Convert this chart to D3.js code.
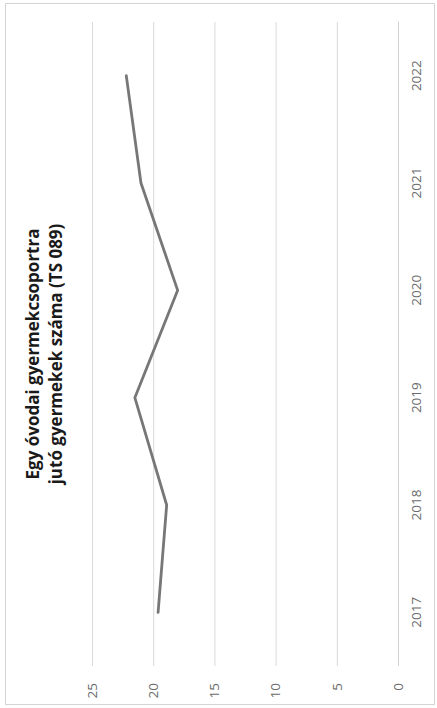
<!DOCTYPE html>
<html>
<head>
<meta charset="utf-8">
<script src="https://cdn.jsdelivr.net/npm/d3@7"></script>
<style>
  html, body { margin: 0; padding: 0; background: #fff; }
  svg { display: block; }
</style>
</head>
<body>
<svg id="chart" width="437" height="708"></svg>
<script>
// ---- Data ----
const years = ["2017", "2018", "2019", "2020", "2021", "2022"];
const values = [19.6, 18.9, 21.5, 18.0, 21.0, 22.2];
const valueTicks = [0, 5, 10, 15, 20, 25];
const titleLines = ["Egy óvodai gyermekcsoportra", "jutó gyermekek száma (TS 089)"];

// ---- Layout (chart is drawn rotated 90° counter-clockwise, like the scanned page) ----
const W = 437, H = 708;
const svg = d3.select("#chart");

// outer border
svg.append("rect")
  .attr("x", 5.5).attr("y", 3.5)
  .attr("width", 429).attr("height", 701)
  .attr("fill", "#fff")
  .attr("stroke", "#d4d4d4")
  .attr("stroke-width", 1);

// rotated frame: local (u,v) -> screen (v, H-u)
const g = svg.append("g").attr("transform", `translate(0,${H}) rotate(-90)`);

const plot = { left: 42, right: 686, top: 92, bottom: 398 };

const x = d3.scaleBand().domain(years).range([plot.left, plot.right]).padding(0);
const y = d3.scaleLinear().domain([0, 25]).range([plot.bottom, plot.top]);

const font = "'Open Sans', 'DejaVu Sans', sans-serif";

// value axis + gridlines
const yAxis = d3.axisLeft(y)
  .tickValues(valueTicks)
  .tickSize(-(plot.right - plot.left))
  .tickPadding(17)
  .tickFormat(d3.format("d"));

const ya = g.append("g")
  .attr("transform", `translate(${plot.left},0)`)
  .call(yAxis);
ya.select(".domain").remove();
ya.selectAll(".tick line").attr("stroke", "#d9d9d9").attr("stroke-width", 1);
ya.selectAll(".tick text")
  .attr("fill", "#6b6b6b")
  .style("font-family", font)
  .style("font-size", "13.5px");

// category axis
const xAxis = d3.axisBottom(x).tickSize(0).tickPadding(13);
const xa = g.append("g")
  .attr("transform", `translate(0,${plot.bottom})`)
  .call(xAxis);
xa.select(".domain").attr("stroke", "#d0d0d0").attr("stroke-width", 1);
xa.selectAll(".tick text")
  .attr("fill", "#6b6b6b")
  .style("font-family", font)
  .style("font-size", "13.5px");

// line
const line = d3.line()
  .x((d, i) => x(years[i]) + x.bandwidth() / 2)
  .y(d => y(d));

g.append("path")
  .datum(values)
  .attr("fill", "none")
  .attr("stroke", "#777777")
  .attr("stroke-width", 2.8)
  .attr("stroke-linejoin", "round")
  .attr("stroke-linecap", "round")
  .attr("d", line);

// title
const title = g.append("text")
  .attr("text-anchor", "middle")
  .attr("fill", "#1a1a1a")
  .style("font-family", font)
  .style("font-weight", "bold")
  .style("font-size", "17px");
titleLines.forEach((t, i) => {
  title.append("tspan")
    .attr("x", H / 2)
    .attr("y", 39 + i * 23)
    .text(t);
});
</script>
</body>
</html>
